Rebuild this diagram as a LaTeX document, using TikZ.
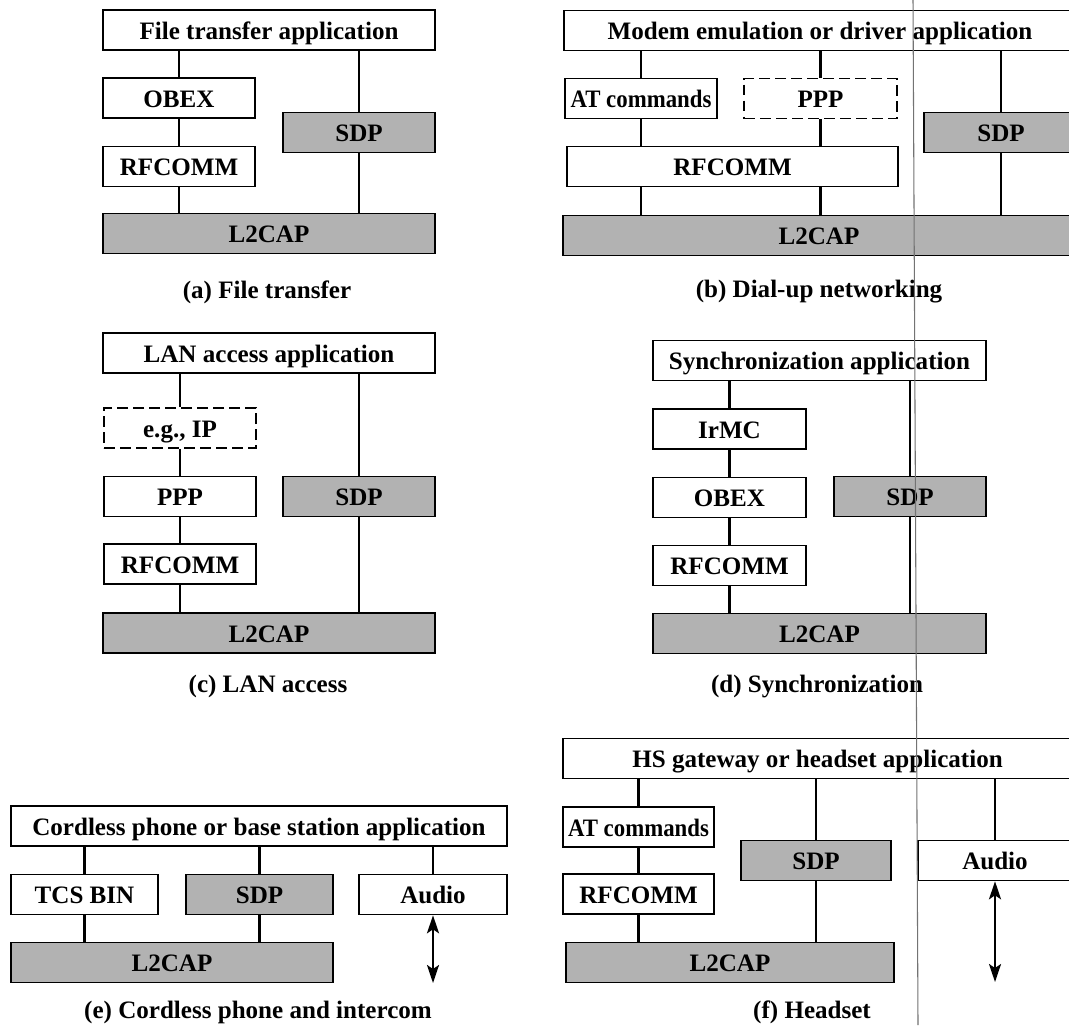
\documentclass[tikz,border=0pt]{standalone}
\usepackage{graphicx}
\usepackage{fontspec}
\setmainfont{Liberation Serif}
\usetikzlibrary{arrows.meta}
\newlength\pxu
\setlength\pxu{0.75pt}
\tikzset{
  lay/.style={draw=black, line width=1.2pt, fill=white, inner sep=0pt,
    minimum height=40\pxu, text height=15pt, text depth=1.5pt,
    font=\fontsize{18.8}{22}\selectfont\bfseries, text=black},
  grey/.style={lay, fill=black!30},
  dash box/.style={lay, dash pattern=on 8pt off 4pt},
  conn/.style={line width=1.6pt, draw=black},
  biarrow/.style={line width=1.7pt, {Stealth[length=13.5pt,width=9pt,inset=3pt]}-{Stealth[length=13.5pt,width=9pt,inset=3pt]}},
  captxt/.style={font=\fontsize{18.8}{22}\selectfont\bfseries, inner sep=0pt},
  scanline/.style={draw=black!55, line width=0.8pt}
}
\newcommand\atcmd{\scalebox{0.91}[1]{AT commands}}
\begin{document}
\begin{tikzpicture}[x=0.75pt,y=-0.75pt]
\useasboundingbox (0,0) rectangle (1069,1025);
\clip (0,0) rectangle (1069,1025);
\fill[white] (0,0) rectangle (1069,1025);

% (a) File transfer
\node[lay, minimum width=332\pxu] (appA) at (269,30) {File transfer application};
\node[lay, minimum width=152\pxu] (obexA) at (179,98) {OBEX};
\node[lay, minimum width=152\pxu] (rfA) at (179,166.5) {RFCOMM};
\node[grey, minimum width=152\pxu] (sdpA) at (359,132.5) {SDP};
\node[grey, minimum width=332\pxu] (l2A) at (269,233.5) {L2CAP};
\node[captxt] (capA) at (267,292) {(a) File transfer};
\draw[conn] (obexA.north) -- (obexA.north |- appA.south);
\draw[conn] (obexA.south) -- (rfA.north);
\draw[conn] (rfA.south) -- (rfA.south |- l2A.north);
\draw[conn] (sdpA.north) -- (sdpA.north |- appA.south);
\draw[conn] (sdpA.south) -- (sdpA.south |- l2A.north);

% (b) Dial-up networking
\node[lay, minimum width=512\pxu] (appB) at (820,30.5) {Modem emulation or driver application};
\node[lay, minimum width=152\pxu] (atB) at (641,98.5) {\atcmd};
\node[dash box, minimum width=153\pxu] (pppB) at (820.5,98.5) {PPP};
\node[lay, minimum width=331\pxu] (rfB) at (732.5,166.5) {RFCOMM};
\node[grey, minimum width=154\pxu] (sdpB) at (1001,132.5) {SDP};
\node[grey, minimum width=512\pxu] (l2B) at (819,235.5) {L2CAP};
\node[captxt] (capB) at (819,292) {(b) Dial-up networking};
\draw[conn] (atB.north) -- (atB.north |- appB.south);
\draw[conn] (pppB.north) -- (pppB.north |- appB.south);
\draw[conn] (atB.south) -- (atB.south |- rfB.north);
\draw[conn] (pppB.south) -- (pppB.south |- rfB.north);
\draw[conn] (rfB.south -| atB.south) -- (atB.south |- l2B.north);
\draw[conn] (rfB.south -| pppB.south) -- (pppB.south |- l2B.north);
\draw[conn] (sdpB.north) -- (sdpB.north |- appB.south);
\draw[conn] (sdpB.south) -- (sdpB.south |- l2B.north);

% (c) LAN access
\node[lay, minimum width=332\pxu] (appC) at (269,353) {LAN access application};
\node[dash box, minimum width=152\pxu] (ipC) at (180,428) {e.g., IP};
\node[lay, minimum width=152\pxu] (pppC) at (180,496.5) {PPP};
\node[grey, minimum width=152\pxu] (sdpC) at (359,496.5) {SDP};
\node[lay, minimum width=152\pxu] (rfC) at (180,564) {RFCOMM};
\node[grey, minimum width=332\pxu] (l2C) at (269,633) {L2CAP};
\node[captxt] (capC) at (268,686) {(c) LAN access};
\draw[conn] (ipC.north) -- (ipC.north |- appC.south);
\draw[conn] (ipC.south) -- (pppC.north);
\draw[conn] (pppC.south) -- (rfC.north);
\draw[conn] (rfC.south) -- (rfC.south |- l2C.north);
\draw[conn] (sdpC.north) -- (sdpC.north |- appC.south);
\draw[conn] (sdpC.south) -- (sdpC.south |- l2C.north);

% (d) Synchronization
\node[lay, minimum width=333\pxu] (appD) at (819.5,360.5) {Synchronization application};
\node[lay, minimum width=153\pxu] (irD) at (729.5,429) {IrMC};
\node[lay, minimum width=153\pxu] (obexD) at (729.5,497.5) {OBEX};
\node[grey, minimum width=152\pxu] (sdpD) at (910,496.5) {SDP};
\node[lay, minimum width=153\pxu] (rfD) at (729.5,565.5) {RFCOMM};
\node[grey, minimum width=333\pxu] (l2D) at (819.5,633.5) {L2CAP};
\node[captxt] (capD) at (817,686) {(d) Synchronization};
\draw[conn] (irD.north) -- (irD.north |- appD.south);
\draw[conn] (irD.south) -- (obexD.north);
\draw[conn] (obexD.south) -- (rfD.north);
\draw[conn] (rfD.south) -- (rfD.south |- l2D.north);
\draw[conn] (sdpD.north) -- (sdpD.north |- appD.south);
\draw[conn] (sdpD.south) -- (sdpD.south |- l2D.north);

% (e) Cordless phone and intercom
\node[lay, minimum width=496\pxu] (appE) at (259,826) {Cordless phone or base station application};
\node[lay, minimum width=147\pxu] (tcsE) at (84.5,894.5) {TCS BIN};
\node[grey, minimum width=147\pxu] (sdpE) at (259.5,894.5) {SDP};
\node[lay, minimum width=148\pxu] (audE) at (433,894.5) {Audio};
\node[grey, minimum width=322\pxu] (l2E) at (172,962.5) {L2CAP};
\coordinate (audEend) at (433,983);
\node[captxt] (capE) at (258,1012) {(e) Cordless phone and intercom};
\draw[conn] (tcsE.north) -- (tcsE.north |- appE.south);
\draw[conn] (sdpE.north) -- (sdpE.north |- appE.south);
\draw[conn] (audE.north) -- (audE.north |- appE.south);
\draw[conn] (tcsE.south) -- (tcsE.south |- l2E.north);
\draw[conn] (sdpE.south) -- (sdpE.south |- l2E.north);
\draw[biarrow] (audE.south) -- (audEend);

% (f) Headset
\node[lay, minimum width=509\pxu] (appF) at (817.5,758.5) {HS gateway or headset application};
\node[lay, minimum width=151\pxu] (atF) at (638.5,827) {\atcmd};
\node[lay, minimum width=151\pxu] (rfF) at (638.5,894) {RFCOMM};
\node[grey, minimum width=150\pxu] (sdpF) at (816,860.5) {SDP};
\node[lay, minimum width=154\pxu] (audF) at (995,860.5) {Audio};
\node[grey, minimum width=328\pxu] (l2F) at (730,962.5) {L2CAP};
\coordinate (audFend) at (995,982);
\node[captxt] (capF) at (812,1012) {(f) Headset};
\draw[conn] (atF.north) -- (atF.north |- appF.south);
\draw[conn] (atF.south) -- (rfF.north);
\draw[conn] (rfF.south) -- (rfF.south |- l2F.north);
\draw[conn] (sdpF.north) -- (sdpF.north |- appF.south);
\draw[conn] (sdpF.south) -- (sdpF.south |- l2F.north);
\draw[conn] (audF.north) -- (audF.north |- appF.south);
\draw[biarrow] (audF.south) -- (audFend);

% scan crease line
\coordinate (creaseTop) at (913,0);
\coordinate (creaseBot) at (918,1025);
\draw[scanline] (creaseTop) -- (creaseBot);
\end{tikzpicture}
\end{document}
